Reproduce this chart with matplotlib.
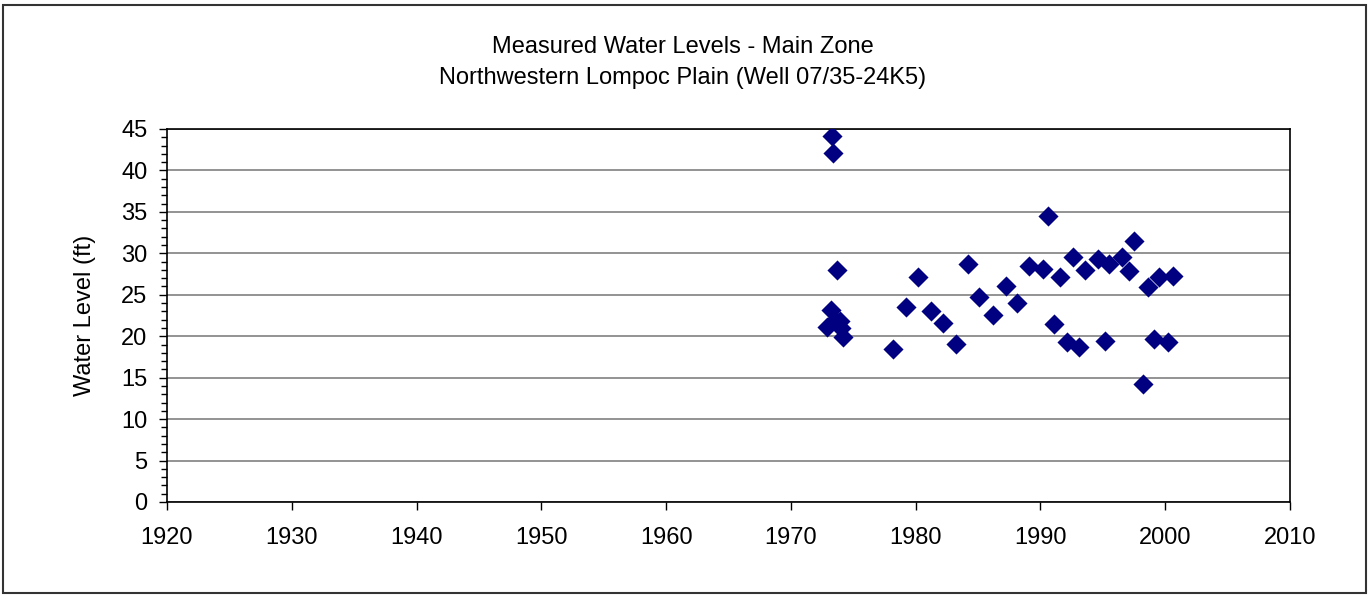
import matplotlib
matplotlib.use("Agg")
from matplotlib import pyplot as plt
from matplotlib.patches import Rectangle
from matplotlib.ticker import MultipleLocator

plt.rcParams['font.family'] = ['Liberation Sans', 'DejaVu Sans']

# measurement dates (decimal years) and water levels (ft)
years = [1973.3, 1973.4, 1973.7, 1973.2, 1972.9, 1973.5, 1973.9, 1974.0, 1974.2,
         1978.2, 1979.2, 1980.2, 1981.2, 1982.2, 1983.2, 1984.2, 1985.1, 1986.2,
         1987.2, 1988.1, 1989.1, 1990.2, 1990.6, 1991.1, 1991.6, 1992.1, 1992.6,
         1993.1, 1993.6, 1994.6, 1995.2, 1995.5, 1996.5, 1997.1, 1997.5, 1998.2,
         1998.6, 1999.1, 1999.5, 2000.2, 2000.6]
levels = [44.1, 42.1, 28.0, 23.2, 21.1, 22.0, 21.8, 21.0, 19.9,
          18.5, 23.5, 27.1, 23.0, 21.6, 19.1, 28.7, 24.7, 22.6,
          26.1, 24.0, 28.5, 28.1, 34.5, 21.5, 27.1, 19.3, 29.5,
          18.7, 28.0, 29.3, 19.4, 28.7, 29.5, 27.9, 31.5, 14.2,
          25.9, 19.7, 27.1, 19.3, 27.3]

title_lines = ["Measured Water Levels - Main Zone",
               "Northwestern Lompoc Plain (Well 07/35-24K5)"]

fig = plt.figure(figsize=(13.72, 5.95), dpi=100)
fig.patches.append(Rectangle((3 / 1372, 2 / 595), 1363 / 1372, 588 / 595,
                             transform=fig.transFigure, fill=False,
                             edgecolor='#333333', linewidth=1.5))

ax = fig.add_axes([167 / 1372, 1 - 502 / 595, 1123 / 1372, 373 / 595])
ax.scatter(years, levels, marker='D', s=105, color='#000080', zorder=3,
           linewidths=0)

ax.set_xlim(1920, 2010)
ax.set_ylim(0, 45)
ax.xaxis.set_major_locator(MultipleLocator(10))
ax.yaxis.set_major_locator(MultipleLocator(5))
ax.yaxis.set_minor_locator(MultipleLocator(1))
ax.grid(axis='y', which='major', color='#808080', linewidth=1.2, zorder=1)

for s in ax.spines.values():
    s.set_color('black')
    s.set_linewidth(1.2)

ax.tick_params(axis='both', which='major', direction='out', length=6,
               width=1, labelsize=17, colors='black')
ax.tick_params(axis='y', which='minor', direction='out', length=4, width=1)
ax.tick_params(axis='x', pad=12)
ax.tick_params(axis='y', pad=8)

ax.set_ylabel("Water Level (ft)", fontsize=17, labelpad=18)
fig.text(683 / 1372, 1 - 47 / 595, title_lines[0], ha='center', va='center',
         fontsize=17)
fig.text(683 / 1372, 1 - 78 / 595, title_lines[1], ha='center', va='center',
         fontsize=17)

fig.savefig("out.png", dpi=100)
